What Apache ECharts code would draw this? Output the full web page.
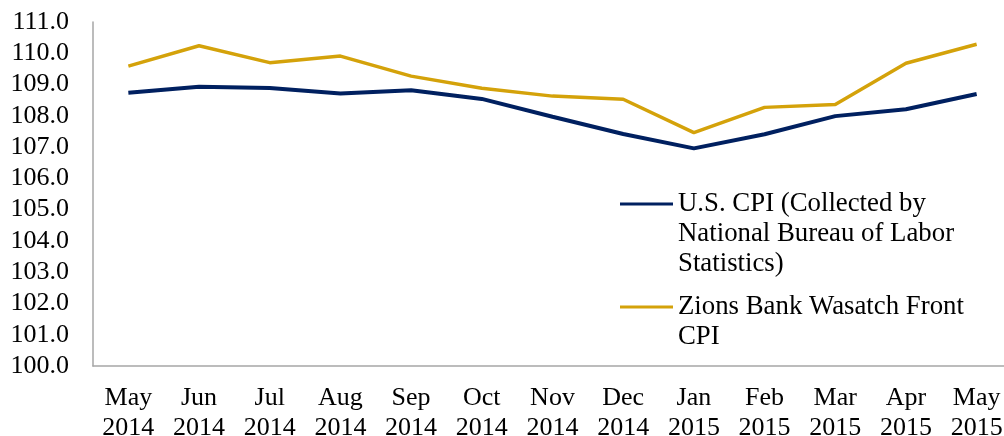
<!DOCTYPE html>
<html><head><meta charset="utf-8">
<script src="https://cdn.jsdelivr.net/npm/echarts@6/dist/echarts.min.js"></script>
<style>html,body{margin:0;padding:0;background:#fff}#c{width:1004px;height:436px}</style>
</head><body><div id="c"></div>
<script>
const categories = ['May\n2014','Jun\n2014','Jul\n2014','Aug\n2014','Sep\n2014','Oct\n2014','Nov\n2014','Dec\n2014','Jan\n2015','Feb\n2015','Mar\n2015','Apr\n2015','May\n2015'];
const usCpi = [108.74,108.93,108.89,108.71,108.82,108.54,107.97,107.42,106.96,107.41,107.99,108.21,108.70];
const zionsCpi = [109.59,110.24,109.70,109.91,109.27,108.88,108.63,108.53,107.46,108.27,108.36,109.68,110.29];
const seriesNames = ['U.S. CPI (Collected by\nNational Bureau of Labor\nStatistics)','Zions Bank Wasatch Front\nCPI'];
const yTicks = {min:100, max:111, interval:1};

const FONT = '"Liberation Serif", "Times New Roman", serif';
const legendText = {fontFamily:FONT, fontSize:26.8, lineHeight:30, color:'#000'};
const chart = echarts.init(document.getElementById('c'), null, {renderer:'canvas'});
chart.setOption({
  animation:false,
  backgroundColor:'#fff',
  grid:{left:93, top:22, width:919, bottom:70, containLabel:false, outerBoundsMode:'none'},
  legend:[
    {data:[seriesNames[0]], left:620, top:129, padding:0, icon:'rect', itemWidth:53, itemHeight:3,
     formatter:n=>'\n\n'+n, textStyle:legendText},
    {data:[seriesNames[1]], left:620, top:262, padding:0, icon:'rect', itemWidth:53, itemHeight:3,
     formatter:n=>'\n'+n, textStyle:legendText}
  ],
  xAxis:{type:'category', data:categories, boundaryGap:true,
    axisLine:{lineStyle:{color:'#a6a6a6', width:1.5}}, axisTick:{show:false},
    axisLabel:{fontFamily:FONT, fontSize:26, lineHeight:30, color:'#000', margin:17, interval:0}},
  yAxis:{type:'value', min:yTicks.min, max:yTicks.max, interval:yTicks.interval,
    axisLine:{show:true, lineStyle:{color:'#a6a6a6', width:1.5}}, axisTick:{show:false}, splitLine:{show:false},
    axisLabel:{fontFamily:FONT, fontSize:26, color:'#000', margin:24, formatter:v=>v.toFixed(1)}},
  series:[
    {name:seriesNames[0], type:'line', data:usCpi, symbol:'none', lineStyle:{color:'#002060', width:4}, itemStyle:{color:'#002060'}},
    {name:seriesNames[1], type:'line', data:zionsCpi, symbol:'none', lineStyle:{color:'#D4A20A', width:3.5}, itemStyle:{color:'#D4A20A'}}
  ]
});
</script></body></html>
